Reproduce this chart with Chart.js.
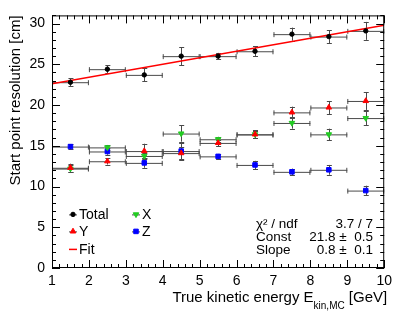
<!DOCTYPE html>
<html>
<head>
<meta charset="utf-8">
<script src="https://cdn.jsdelivr.net/npm/chart.js@4.4.1/dist/chart.umd.min.js"></script>
<style>
  html, body { margin: 0; padding: 0; background: #fff; }
  #wrap { width: 397px; height: 315px; position: relative; }
</style>
</head>
<body>
<div id="wrap"><canvas id="resChart"></canvas></div>
<script>
// bin centres (true kinetic energy, GeV) and half bin width
const energyBins = [1.5, 2.5, 3.5, 4.5, 5.5, 6.5, 7.5, 8.5, 9.5];
const binHalfWidth = 0.5;

// start point resolution [cm]
const totalRes = [22.8, 24.4, 23.7, 26.0, 26.0, 26.6, 28.7, 28.4, 29.1];
const totalErr = [0.5, 0.5, 0.8, 1.1, 0.4, 0.6, 0.8, 0.8, 1.1];
const yRes = [12.3, 13.1, 14.35, 14.1, 15.35, 16.4, 19.1, 19.7, 20.5];
const yErr = [0.5, 0.4, 0.9, 0.8, 0.4, 0.4, 0.7, 0.8, 1.1];
const xRes = [12.2, 14.8, 13.75, 16.5, 15.8, 16.4, 17.8, 16.4, 18.4];
const xErr = [0.4, 0.3, 0.4, 1.0, 0.3, 0.5, 0.7, 0.7, 0.9];
const zRes = [14.9, 14.3, 12.9, 14.35, 13.7, 12.65, 11.8, 12.05, 9.5];
const zErr = [0.3, 0.4, 0.6, 1.0, 0.3, 0.5, 0.4, 0.6, 0.6];

// linear fit drawn over the whole range
const fitX = [1, 10];
const fitY = [22.6, 29.8];

// fit box
const statLabels = ['χ² / ndf', 'Const', 'Slope'];
const statValues = ['3.7 / 7', '21.8 ±  0.5', '0.8 ±  0.1'];

const xTicks = [1, 2, 3, 4, 5, 6, 7, 8, 9, 10];
const yTicks = [0, 5, 10, 15, 20, 25, 30];

const FONT = '"Liberation Sans", Arial, Helvetica, sans-serif';
const ERR_COLOR = '#4a4a4a';

function toPoints(xs, ys) {
    return xs.map((x, i) => ({ x: x, y: ys[i] }));
}

function markerSet(label, values, errors, color, style, radius, rotation) {
    return {
        label: label,
        type: 'scatter',
        data: toPoints(energyBins, values),
        errors: errors,
        backgroundColor: color,
        borderColor: color,
        pointStyle: style,
        pointRadius: radius,
        pointRotation: rotation || 0,
        pointBorderWidth: 1,
        showLine: false
    };
}

// error bars, frame, inward ticks, titles, legend and fit box in ROOT style
const rootStyle = {
    id: 'rootStyle',
    beforeDatasetsDraw(chart) {
        const ctx = chart.ctx;
        const xs = chart.scales.x, ys = chart.scales.y;
        ctx.save();
        ctx.strokeStyle = ERR_COLOR;
        ctx.lineWidth = 1;
        chart.data.datasets.forEach(ds => {
            if (!ds.errors) return;
            ds.data.forEach((p, i) => {
                const px = xs.getPixelForValue(p.x);
                const py = ys.getPixelForValue(p.y);
                const x0 = xs.getPixelForValue(p.x - binHalfWidth);
                const x1 = xs.getPixelForValue(p.x + binHalfWidth);
                const y0 = ys.getPixelForValue(p.y - ds.errors[i]);
                const y1 = ys.getPixelForValue(p.y + ds.errors[i]);
                ctx.beginPath();
                ctx.moveTo(x0, py + 0.5); ctx.lineTo(x1, py + 0.5);
                ctx.moveTo(x0 + 0.5, py - 2); ctx.lineTo(x0 + 0.5, py + 3);
                ctx.moveTo(x1 - 0.5, py - 2); ctx.lineTo(x1 - 0.5, py + 3);
                ctx.moveTo(Math.round(px) + 0.5, y0); ctx.lineTo(Math.round(px) + 0.5, y1);
                ctx.moveTo(px - 2, Math.round(y0) + 0.5); ctx.lineTo(px + 3, Math.round(y0) + 0.5);
                ctx.moveTo(px - 2, Math.round(y1) + 0.5); ctx.lineTo(px + 3, Math.round(y1) + 0.5);
                ctx.stroke();
            });
        });
        ctx.restore();
    },
    afterDraw(chart) {
        const ctx = chart.ctx;
        const a = chart.chartArea;
        const xs = chart.scales.x, ys = chart.scales.y;
        ctx.save();

        // frame
        ctx.strokeStyle = '#000';
        ctx.lineWidth = 1;
        ctx.strokeRect(a.left + 0.5, a.top + 0.5, a.right - a.left - 1, a.bottom - a.top - 1);

        // ticks pointing inward on all sides
        ctx.beginPath();
        for (let v = 1; v <= 10.001; v += 0.2) {
            const major = Math.abs(v - Math.round(v)) < 1e-6;
            const len = major ? 8 : 4;
            const px = Math.round(xs.getPixelForValue(v)) + 0.5;
            ctx.moveTo(px, a.bottom); ctx.lineTo(px, a.bottom - len);
            ctx.moveTo(px, a.top); ctx.lineTo(px, a.top + len);
        }
        for (let v = 0; v <= 31; v += 1) {
            const len = v % 5 === 0 ? 8 : 4;
            const py = Math.round(ys.getPixelForValue(v)) + 0.5;
            ctx.moveTo(a.left, py); ctx.lineTo(a.left + len, py);
            ctx.moveTo(a.right, py); ctx.lineTo(a.right - len, py);
        }
        ctx.stroke();

        // axis titles
        ctx.fillStyle = '#000';
        ctx.textBaseline = 'alphabetic';
        const big = '15px ' + FONT, small = '10px ' + FONT;
        const mainA = 'True kinetic energy E';
        const mainB = ' [GeV]';
        const sub = 'kin,MC';
        ctx.font = big;
        const wA = ctx.measureText(mainA).width;
        const wB = ctx.measureText(mainB).width;
        ctx.font = small;
        const wS = ctx.measureText(sub).width;
        const tx = a.right + 3 - wA - wS - wB;
        ctx.font = big;
        ctx.fillText(mainA, tx, 302);
        ctx.font = small;
        ctx.fillText(sub, tx + wA, 309);
        ctx.font = big;
        ctx.fillText(mainB, tx + wA + wS, 302);

        ctx.save();
        ctx.translate(20, a.top);
        ctx.rotate(-Math.PI / 2);
        ctx.textAlign = 'right';
        ctx.fillText('Start point resolution [cm]', 0, 0);
        ctx.restore();

        // legend: [dataset, row, column]
        ctx.font = '14px ' + FONT;
        ctx.textBaseline = 'middle';
        const legendRows = [
            [0, 0, 0], [2, 0, 1], [1, 1, 0], [3, 1, 1]
        ];
        const colX = [a.left + 21, a.left + 84];
        const rowY = [a.top + 199, a.top + 216, a.top + 234];
        legendRows.forEach(r => {
            const ds = chart.data.datasets[r[0]];
            const cx = colX[r[2]], cy = rowY[r[1]];
            ctx.strokeStyle = ERR_COLOR;
            ctx.lineWidth = 1;
            ctx.beginPath();
            ctx.moveTo(cx - 4, cy + 0.5); ctx.lineTo(cx + 4, cy + 0.5);
            ctx.stroke();
            ctx.fillStyle = ds.backgroundColor;
            ctx.strokeStyle = ds.borderColor;
            Chart.helpers.drawPoint(ctx, {
                pointStyle: ds.pointStyle, radius: ds.pointRadius,
                rotation: ds.pointRotation, borderWidth: 1
            }, cx, cy);
            ctx.fillStyle = '#000';
            ctx.fillText(ds.label, cx + 6, cy + 1);
        });
        const fitDs = chart.data.datasets[4];
        ctx.strokeStyle = fitDs.borderColor;
        ctx.lineWidth = 1.5;
        ctx.beginPath();
        ctx.moveTo(colX[0] - 4, rowY[2]); ctx.lineTo(colX[0] + 4, rowY[2]);
        ctx.stroke();
        ctx.fillText(fitDs.label, colX[0] + 6, rowY[2] + 1);

        // fit parameters
        ctx.font = '13.5px ' + FONT;
        const statY = [a.top + 209, a.top + 222, a.top + 235];
        statLabels.forEach((s, i) => {
            ctx.textAlign = 'left';
            ctx.fillText(s, 256, statY[i]);
            ctx.textAlign = 'right';
            ctx.fillText(statValues[i], 373, statY[i]);
        });
        ctx.restore();
    }
};

const ctx = document.getElementById('resChart').getContext('2d');
const resChart = new Chart(ctx, {
    data: {
        datasets: [
            markerSet('Total', totalRes, totalErr, '#000000', 'circle', 2.2),
            markerSet('Y', yRes, yErr, '#ff0000', 'triangle', 3.2),
            markerSet('X', xRes, xErr, '#22cc22', 'triangle', 3.2, 180),
            markerSet('Z', zRes, zErr, '#0000ff', 'rect', 3.2),
            {
                label: 'Fit',
                type: 'line',
                data: toPoints(fitX, fitY),
                borderColor: '#ff0000',
                backgroundColor: '#ff0000',
                borderWidth: 1.5,
                pointRadius: 0,
                fill: false,
                tension: 0
            }
        ]
    },
    options: {
        responsive: true,
        maintainAspectRatio: false,
        animation: false,
        layout: { padding: { top: 12, right: 9, left: 0, bottom: 0 } },
        scales: {
            x: {
                type: 'linear',
                min: 1,
                max: 10,
                afterFit(scale) { scale.height = 47; },
                afterBuildTicks(scale) { scale.ticks = xTicks.map(v => ({ value: v })); },
                grid: { display: false, drawTicks: false },
                border: { display: false },
                ticks: {
                    autoSkip: false,
                    maxRotation: 0,
                    padding: 5,
                    color: '#000',
                    font: { family: FONT, size: 14 }
                }
            },
            y: {
                type: 'linear',
                min: 0,
                max: 31,
                afterFit(scale) { scale.width = 52; },
                afterBuildTicks(scale) { scale.ticks = yTicks.map(v => ({ value: v })); },
                grid: { display: false, drawTicks: false },
                border: { display: false },
                ticks: {
                    autoSkip: false,
                    padding: 7,
                    color: '#000',
                    font: { family: FONT, size: 14 }
                }
            }
        },
        plugins: {
            legend: { display: false },
            tooltip: { enabled: false }
        }
    },
    plugins: [rootStyle]
});
</script>
</body>
</html>
